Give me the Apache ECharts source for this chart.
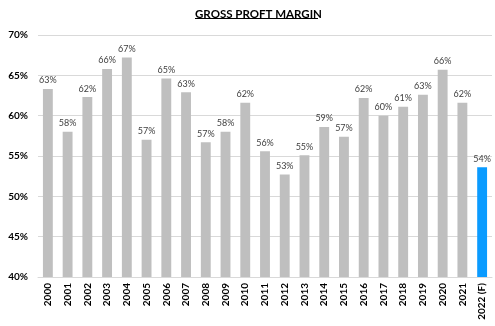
<!DOCTYPE html>
<html><head><meta charset="utf-8">
<script src="https://cdn.jsdelivr.net/npm/echarts@6/dist/echarts.min.js"></script>
<style>html,body{margin:0;padding:0;background:#fff}#c{width:495px;height:326px}</style>
</head><body><div id="c"></div>
<script>
const categories = ['2000','2001','2002','2003','2004','2005','2006','2007','2008','2009','2010','2011','2012','2013','2014','2015','2016','2017','2018','2019','2020','2021','2022 (F)'];
const margins = [63.3,58.0,62.3,65.8,67.2,57.0,64.6,62.9,56.7,58.0,61.6,55.6,52.7,55.1,58.6,57.4,62.2,60.0,61.1,62.6,65.7,61.6,53.6];
const forecastIndex = 22;
const yTicks = {min:40, max:70, interval:5};

const chart = echarts.init(document.getElementById('c'));
chart.setOption({
  animation:false,
  title:{text:'GROSS PROFT MARGIN', left:195, top:8, padding:0,
    textStyle:{fontFamily:'Lato', fontSize:11.5, fontWeight:'bold', color:'#000'}},
  graphic:[{type:'line', shape:{x1:195,y1:18.5,x2:318,y2:18.5}, style:{stroke:'#000',lineWidth:1}}],
  grid:{left:38, right:3, top:35, bottom:49},
  xAxis:{type:'category', data:categories,
    axisLine:{lineStyle:{color:'#D9D9D9'}}, axisTick:{show:false},
    axisLabel:{rotate:90, interval:0, fontFamily:'Lato', fontWeight:'bold', fontSize:10, color:'#000', margin:6}},
  yAxis:{type:'value', min:yTicks.min, max:yTicks.max, interval:yTicks.interval,
    axisLine:{show:false}, axisTick:{show:false},
    splitLine:{lineStyle:{color:'#D9D9D9'}},
    axisLabel:{formatter:v=>v+'%', fontFamily:'Lato', fontWeight:'bold', fontSize:10, color:'#000', margin:10}},
  series:[{type:'bar', barWidth:'50%',
    data:margins.map((v,i)=>({value:v, itemStyle:{color: i===forecastIndex?'#0A9BFF':'#BFBFBF'}})),
    label:{show:true, position:'top', distance:4, formatter:p=>Math.round(p.value)+'%',
      fontFamily:'Lato', fontSize:9, color:'#404040'}}]
});
</script></body></html>
